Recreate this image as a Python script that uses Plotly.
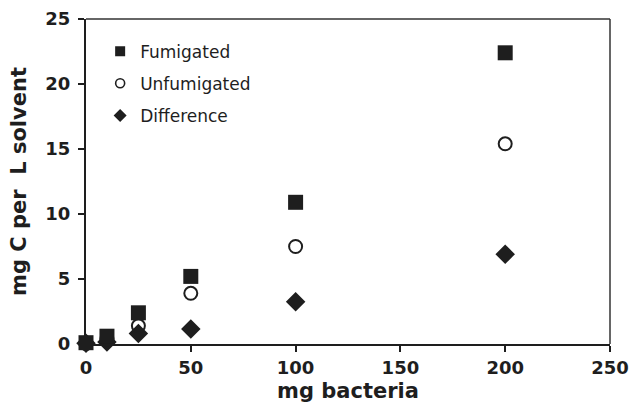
import plotly.graph_objects as go

bacteria = [0, 10, 25, 50, 100, 200]
fumigated = [0.1, 0.6, 2.4, 5.2, 10.9, 22.4]
unfumigated = [0.05, 0.4, 1.4, 3.9, 7.5, 15.4]
difference = [0.05, 0.15, 0.8, 1.15, 3.25, 6.9]

x_ticks = [0, 50, 100, 150, 200, 250]
y_ticks = [0, 5, 10, 15, 20, 25]

INK = "#1e1e1e"
FONT = "DejaVu Sans"

series = [
    ("Fumigated", fumigated, dict(symbol="square", size=15, color=INK)),
    ("Unfumigated", unfumigated, dict(symbol="circle-open", size=13, color=INK, line=dict(width=2, color=INK))),
    ("Difference", difference, dict(symbol="diamond", size=15, color=INK)),
]

fig = go.Figure()
for name, vals, mk in [series[2], series[1], series[0]]:
    fig.add_trace(go.Scatter(x=bacteria, y=vals, mode="markers", marker=mk,
                             showlegend=False, cliponaxis=False, name=name))

legend_sizes = {"Fumigated": 10, "Unfumigated": 9, "Difference": 10}
for name, vals, mk in series:
    m = dict(mk)
    m["size"] = legend_sizes[name]
    if "line" in m:
        m["line"] = dict(width=1.6, color=INK)
    fig.add_trace(go.Scatter(x=[None], y=[None], mode="markers", marker=m,
                             name=name, legendgroup=name, showlegend=True))

fig.update_layout(
    width=633, height=404,
    margin=dict(l=86, r=23, t=19, b=60),
    plot_bgcolor="white", paper_bgcolor="white",
    font=dict(family=FONT, color=INK),
    legend=dict(x=0.027, y=0.955, xanchor="left", yanchor="top",
                font=dict(family=FONT, size=17, color=INK),
                tracegroupgap=7, bgcolor="rgba(0,0,0,0)",
                itemwidth=30),
    xaxis=dict(range=[0, 250], tickvals=x_ticks, ticks="outside", ticklen=6,
               tickwidth=1.5, tickcolor=INK, showgrid=False, zeroline=False,
               showline=True, linecolor=INK, linewidth=2, automargin=False,
               tickfont=dict(family=FONT, size=18, color=INK, weight="bold"),
               title=dict(text="mg bacteria", standoff=7,
                          font=dict(family=FONT, size=21, color=INK, weight="bold"))),
    yaxis=dict(range=[0, 25], tickvals=y_ticks, ticks="outside", ticklen=6,
               tickwidth=1.5, tickcolor=INK, showgrid=False, zeroline=False,
               showline=True, linecolor=INK, linewidth=2, automargin=False,
               ticklabelstandoff=4,
               tickfont=dict(family=FONT, size=18, color=INK, weight="bold"),
               title=dict(text="mg C per\u00a0 L solvent", standoff=13,
                          font=dict(family=FONT, size=21, color=INK, weight="bold"))),
    shapes=[
        dict(type="line", xref="paper", yref="paper", x0=0, x1=1, y0=1, y1=1,
             line=dict(color="#333333", width=1.5)),
        dict(type="line", xref="paper", yref="paper", x0=1, x1=1, y0=0, y1=1,
             line=dict(color="#333333", width=1.5)),
    ],
)

fig.write_html("out.html")
